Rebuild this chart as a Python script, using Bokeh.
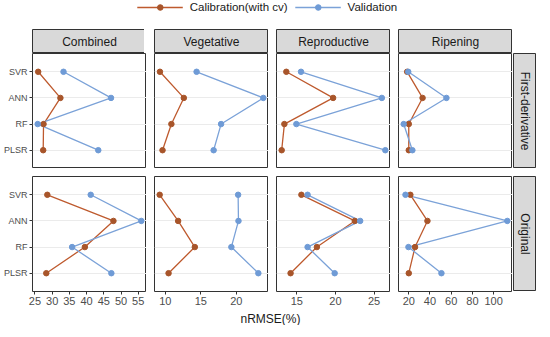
import math
import numpy as np
from bokeh.plotting import figure
from bokeh.models import (Range1d, FactorRange, FixedTicker, Label, Legend, LegendItem,
                          ColumnDataSource, Spacer, Grid, CategoricalTicker)
from bokeh.layouts import column, row
from bokeh.embed import file_html
from bokeh.resources import INLINE

# ---------------- data ----------------
models = ["SVR", "ANN", "RF", "PLSR"]
stages = ["Combined", "Vegetative", "Reproductive", "Ripening"]
preprocessing = ["First-derivative", "Original"]
series_names = ["Calibration(with cv)", "Validation"]

# nRMSE (%) in model order SVR, ANN, RF, PLSR
cal_fd_combined = [25.95, 32.4, 27.5, 27.4]
val_fd_combined = [33.3, 47.1, 25.8, 43.4]
cal_fd_veg = [9.24, 12.6, 10.85, 9.6]
val_fd_veg = [14.4, 23.8, 17.85, 16.8]
cal_fd_rep = [13.65, 19.7, 13.4, 13.05]
val_fd_rep = [15.55, 26.0, 14.95, 26.45]
cal_fd_rip = [18.5, 33.0, 20.0, 20.0]
val_fd_rip = [19.5, 55.5, 15.2, 23.4]

cal_or_combined = [28.6, 47.8, 39.5, 28.3]
val_or_combined = [41.2, 55.9, 35.8, 47.2]
cal_or_veg = [9.2, 11.8, 14.15, 10.45]
val_or_veg = [20.25, 20.3, 19.3, 23.1]
cal_or_rep = [15.6, 22.5, 17.6, 14.2]
val_or_rep = [16.4, 23.2, 16.4, 19.9]
cal_or_rip = [21.5, 37.6, 25.9, 20.0]
val_or_rip = [16.9, 112.9, 19.7, 50.8]

ticks_combined = [25, 30, 35, 40, 45, 50, 55]
ticks_veg = [10, 15, 20]
ticks_rep = [15, 20, 25]
ticks_rip = [20, 40, 60, 80, 100]

data = {
    ("First-derivative", "Combined"): (cal_fd_combined, val_fd_combined),
    ("First-derivative", "Vegetative"): (cal_fd_veg, val_fd_veg),
    ("First-derivative", "Reproductive"): (cal_fd_rep, val_fd_rep),
    ("First-derivative", "Ripening"): (cal_fd_rip, val_fd_rip),
    ("Original", "Combined"): (cal_or_combined, val_or_combined),
    ("Original", "Vegetative"): (cal_or_veg, val_or_veg),
    ("Original", "Reproductive"): (cal_or_rep, val_or_rep),
    ("Original", "Ripening"): (cal_or_rip, val_or_rip),
}
ticks = {"Combined": ticks_combined, "Vegetative": ticks_veg,
         "Reproductive": ticks_rep, "Ripening": ticks_rip}

# ---------------- style ----------------
FONT = "Liberation Sans"
CAL_LINE, CAL_PT = "#BE5A2E", "#A8552A"
VAL_LINE, VAL_PT = "#7BA2D8", "#6F9BD6"
BORDER = "#333333"
STRIP_FILL = "#D9D9D9"
GRID = "#EBEBEB"

PW, PH = 114, 115      # panel frame size
LB = 30                # left border (y tick labels)
GAP = 8                # gap between columns
RGAP = 8               # gap between rows
SH = 24                # strip height
RSW = 23               # right strip width
TOTAL_W = LB + 4 * PW + 3 * GAP + 1 + RSW

# x ranges per column, with 5% expansion
xranges = {}
for s in stages:
    vals = []
    for pp in preprocessing:
        c, v = data[(pp, s)]
        vals += list(c) + list(v)
    lo, hi = min(vals), max(vals)
    pad = 0.05 * (hi - lo)
    xranges[s] = Range1d(lo - pad, hi + pad)


def strip_top(text, ci):
    f = figure(frame_width=PW, frame_height=SH, x_range=Range1d(0, 1), y_range=Range1d(0, 1),
               output_backend="svg", toolbar_location=None, min_border=0,
               x_axis_location=None, y_axis_location=None)
    f.min_border_left = LB if ci == 0 else GAP
    f.grid.visible = False
    f.background_fill_color = STRIP_FILL
    f.border_fill_color = "white"
    f.outline_line_color = BORDER
    f.outline_line_width = 1
    f.add_layout(Label(x=0.5, y=0.5, text=text, text_align="center", text_baseline="middle",
                       text_font=FONT, text_font_size="12px", text_color="#1A1A1A"))
    return f


def strip_right(text, top):
    f = figure(frame_width=RSW, frame_height=PH, x_range=Range1d(0, 1), y_range=Range1d(0, 1),
               output_backend="svg", toolbar_location=None, min_border=0,
               x_axis_location=None, y_axis_location=None)
    f.min_border_left = 1
    f.min_border_top = top
    f.grid.visible = False
    f.background_fill_color = STRIP_FILL
    f.border_fill_color = "white"
    f.outline_line_color = BORDER
    f.outline_line_width = 1
    f.add_layout(Label(x=0.5, y=0.5, text=text, angle=-math.pi / 2, text_align="center",
                       text_baseline="middle", text_font=FONT, text_font_size="12px",
                       text_color="#1A1A1A"))
    return f


def panel(ri, ci):
    pp, s = preprocessing[ri], stages[ci]
    cal, val = data[(pp, s)]
    p = figure(frame_width=PW, frame_height=PH, x_range=xranges[s],
               y_range=FactorRange(factors=models[::-1], range_padding=0.2,
                                   range_padding_units="absolute"),
               output_backend="svg", toolbar_location=None, min_border=0,
               x_axis_location="below" if ri == 1 else None,
               y_axis_location="left" if ci == 0 else None)
    p.min_border_left = LB if ci == 0 else GAP
    p.min_border_top = 0 if ri == 0 else RGAP
    p.grid.visible = False
    p.add_layout(Grid(dimension=1, ticker=CategoricalTicker(), grid_line_color=GRID,
                      grid_line_width=1.2))
    p.background_fill_color = "white"
    p.outline_line_color = BORDER
    p.outline_line_width = 1

    cs = ColumnDataSource(dict(x=cal, y=models))
    vs = ColumnDataSource(dict(x=val, y=models))
    p.line("x", "y", source=cs, line_color=CAL_LINE, line_width=1.3)
    p.line("x", "y", source=vs, line_color=VAL_LINE, line_width=1.3)
    p.scatter("x", "y", source=cs, size=5.5, fill_color=CAL_PT, line_color=CAL_PT)
    p.scatter("x", "y", source=vs, size=5.5, fill_color=VAL_PT, line_color=VAL_PT)

    if ci == 0:
        ax = p.yaxis[0]
        ax.major_label_text_font = FONT
        ax.major_label_text_font_size = "9px"
        ax.major_label_text_color = "#4D4D4D"
        ax.major_tick_line_color = BORDER
        ax.major_tick_out = 3
        ax.major_tick_in = 0
        ax.axis_line_color = None
        ax.major_label_standoff = 2
    if ri == 1:
        ax = p.xaxis[0]
        ax.ticker = FixedTicker(ticks=ticks[s])
        ax.major_label_text_font = FONT
        ax.major_label_text_font_size = "11px"
        ax.major_label_text_color = "#4D4D4D"
        ax.major_tick_line_color = BORDER
        ax.major_tick_out = 3
        ax.major_tick_in = 0
        ax.minor_tick_line_color = None
        ax.axis_line_color = None
        ax.major_label_standoff = 2
    return p


# ---------------- legend ----------------
leg = figure(frame_width=TOTAL_W, frame_height=29, x_range=Range1d(0, 1), y_range=Range1d(0, 1),
             output_backend="svg", toolbar_location=None, min_border=0,
             x_axis_location=None, y_axis_location=None)
leg.grid.visible = False
leg.outline_line_color = None
empty_c = ColumnDataSource(dict(x=np.array([np.nan]), y=np.array([np.nan])))
empty_v = ColumnDataSource(dict(x=np.array([np.nan]), y=np.array([np.nan])))
lc = leg.line("x", "y", source=empty_c, line_color=CAL_LINE, line_width=1.3)
pc = leg.scatter("x", "y", source=empty_c, size=5.5, fill_color=CAL_PT, line_color=CAL_PT)
lv = leg.line("x", "y", source=empty_v, line_color=VAL_LINE, line_width=1.3)
pv = leg.scatter("x", "y", source=empty_v, size=5.5, fill_color=VAL_PT, line_color=VAL_PT)
legend = Legend(items=[LegendItem(label=series_names[0], renderers=[lc, pc]),
                       LegendItem(label=series_names[1], renderers=[lv, pv])],
                orientation="horizontal", location="top_center",
                glyph_width=46, glyph_height=14, label_standoff=7, spacing=7,
                padding=0, margin=0, border_line_color=None, background_fill_alpha=0,
                label_text_font=FONT, label_text_font_size="11.5px", label_text_color="#1A1A1A",
                label_height=14)
leg.add_layout(legend, "center")

# ---------------- grid of panels ----------------
top_cols = [column(strip_top(stages[ci], ci), panel(0, ci), spacing=0) for ci in range(4)]
top_cols.append(column(Spacer(width=RSW + 1, height=SH), strip_right(preprocessing[0], 0), spacing=0))
bot_cols = [panel(1, ci) for ci in range(4)]
bot_cols.append(strip_right(preprocessing[1], RGAP))

xl = figure(frame_width=TOTAL_W, frame_height=18, x_range=Range1d(0, 1), y_range=Range1d(0, 1),
            output_backend="svg", toolbar_location=None, min_border=0,
            x_axis_location=None, y_axis_location=None)
xl.grid.visible = False
xl.outline_line_color = None
xl.add_layout(Label(x=LB + (4 * PW + 3 * GAP) / 2, y=7, x_units="screen", y_units="screen",
                    text="nRMSE(%)", text_align="center", text_baseline="middle",
                    text_font=FONT, text_font_size="12px", text_color="#1A1A1A"))

layout = column(leg, row(*top_cols, spacing=0), row(*bot_cols, spacing=0), xl, spacing=0)

open("out.html", "w").write(file_html(layout, INLINE))
